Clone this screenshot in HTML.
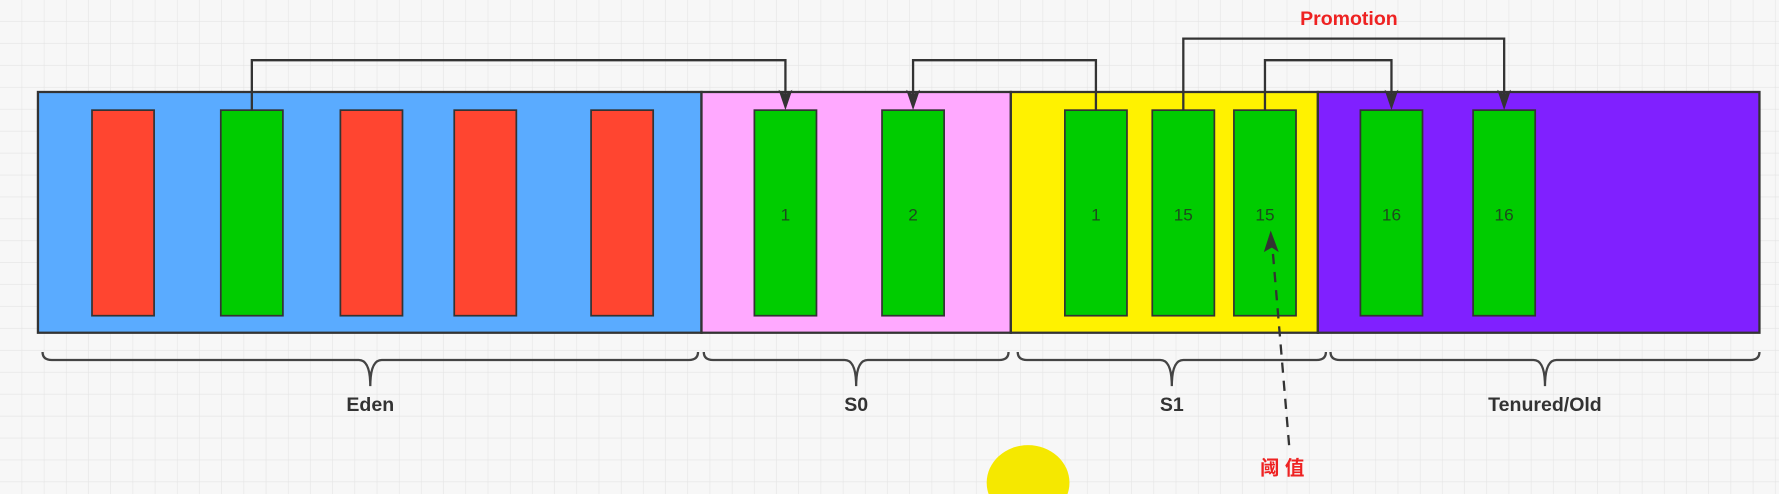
<!DOCTYPE html>
<html><head><meta charset="utf-8"><style>
html,body{margin:0;padding:0;background:#f7f7f7;width:1779px;height:494px;overflow:hidden;}
svg{display:block;}
text{font-family:"Liberation Sans","Noto Sans CJK SC",sans-serif;}
</style></head><body>
<svg id="chart" width="1779" height="494" viewBox="0 0 1547 435" preserveAspectRatio="none" xmlns="http://www.w3.org/2000/svg">
<defs>
<pattern id="grid" width="19.3" height="19.3" patternUnits="userSpaceOnUse">
<path d="M19.3 0V19.3M0 19.3H19.3" stroke="#e4e4e4" stroke-width="1" fill="none"/>
</pattern>
</defs>
<rect width="1547" height="435" fill="url(#grid)"/>
<g id="regions"></g>
<g id="blocks"></g>
<g id="arrows" fill="none" stroke="#333" stroke-width="2"></g>
<g id="braces" fill="none" stroke="#444" stroke-width="2"></g>
<text x="1173" y="22" text-anchor="middle" fill="#ee2222" font-weight="bold" font-size="17">Promotion</text>
<path d="M1121 392 L1106 212" stroke="#333" stroke-width="2" stroke-dasharray="9,7" fill="none"/>
<path d="M1105 203 L1099 222 L1106 218 L1112 222 Z" fill="#333"/>
<text x="1115" y="418" text-anchor="middle" fill="#ee2222" font-weight="bold" font-size="17">阈 值</text>
<ellipse cx="894" cy="425" rx="36" ry="33" fill="#f5e800"/>
</svg>
<script>
const regionNames=['Eden','S0','S1','Tenured/Old'];
const regionStarts=[33,610,879,1146];
const regionEnds=[610,879,1146,1530];
const regionColors=['#5aabff','#ffa9ff','#fff200','#8020ff'];
const blockX=[80,192,296,395,514,656,767,926,1002,1073,1183,1281];
const blockColor=['#ff4530','#00cc00','#ff4530','#ff4530','#ff4530','#00cc00','#00cc00','#00cc00','#00cc00','#00cc00','#00cc00','#00cc00'];
const blockAge=['','','','','','1','2','1','15','15','16','16'];
const arrowFrom=[1,7,8,9];
const arrowTo=[5,6,11,10];
const arrowTopY=[53,53,34,53];
const NS='http://www.w3.org/2000/svg';
const BW=54,TOP=81,BOT=293,BT=97,BB=278;
function mk(t,a,p){const e=document.createElementNS(NS,t);for(const k in a)e.setAttribute(k,a[k]);p.appendChild(e);return e;}
const R=document.getElementById('regions');
regionNames.forEach((n,i)=>{
 const r=mk('rect',{x:regionStarts[i],y:TOP,width:regionEnds[i]-regionStarts[i],height:BOT-TOP,fill:regionColors[i],stroke:'#333','stroke-width':2},R);
 
 
});
const B=document.getElementById('blocks');
blockX.forEach((x,i)=>{
 const r=mk('rect',{x:x,y:BT,width:BW,height:BB-BT,fill:blockColor[i],stroke:'#333','stroke-width':1.5},B);
 
 
 if(blockAge[i]){
  const t=mk('text',{x:x+BW/2,y:194,'text-anchor':'middle','font-size':15,fill:'#1d4a1d'},B);
  t.textContent=blockAge[i];
  
  
 }
});
const A=document.getElementById('arrows');
arrowFrom.forEach((f,i)=>{
 const x1=blockX[f]+BW/2,x2=blockX[arrowTo[i]]+BW/2,y=arrowTopY[i];
 const p=mk('path',{d:`M${x1} ${BT} V${y} H${x2} V${BT-12}`},A);
 
 
 const h=mk('path',{d:`M${x2-6} ${BT-18} L${x2} ${BT} L${x2+6} ${BT-18} L${x2} ${BT-14} Z`,fill:'#333',stroke:'none'},A);
 
 
});
const BR=document.getElementById('braces');
const braceStarts=[37,612,885,1157];
const braceEnds=[607,877,1153,1530];
regionNames.forEach((n,i)=>{
 const a=braceStarts[i],b=braceEnds[i],c=(a+b)/2,y=310;
 const d=`M${a} ${y} Q${a} ${y+7} ${a+8} ${y+7} H${c-10} Q${c} ${y+7} ${c} ${y+30} Q${c} ${y+7} ${c+10} ${y+7} H${b-8} Q${b} ${y+7} ${b} ${y}`;
 const p=mk('path',{d:d},BR);
 
 
 const t=mk('text',{x:c,y:362,'text-anchor':'middle','font-size':17,'font-weight':'bold',fill:'#333',stroke:'none'},document.getElementById('chart'));
 t.textContent=n;
 
 
});
</script>
</body></html>
